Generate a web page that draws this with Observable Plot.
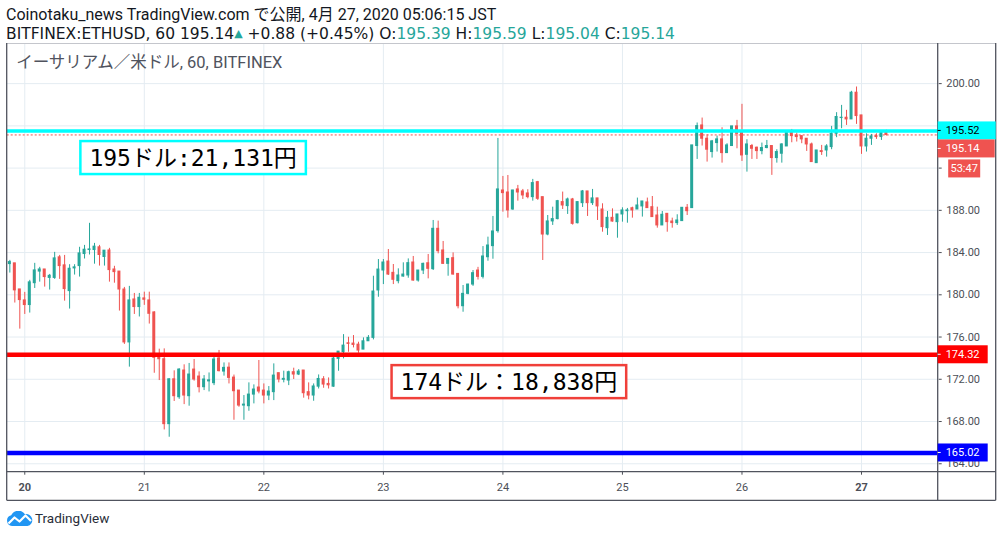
<!DOCTYPE html>
<html><head><meta charset="utf-8">
<script src="https://cdn.jsdelivr.net/npm/d3@7"></script>
<script src="https://cdn.jsdelivr.net/npm/@observablehq/plot@0.6"></script>
<style>
html,body{margin:0;padding:0;background:#fff;overflow:hidden;width:1002px;height:537px;}
#hdr{position:absolute;left:6px;top:5px;color:#131722;white-space:nowrap;}
#l1{font-family:Roboto,"Noto Sans CJK JP",sans-serif;font-size:16px;line-height:19px;}
#l2{font-family:"DejaVu Sans",sans-serif;font-size:15.5px;line-height:19px;}
#hdr .up{color:#26a69a;}
#hdr .tri{font-size:11px;vertical-align:2px;}
#chart{position:absolute;left:0;top:43px;}
#logo{position:absolute;left:6px;top:510px;height:16px;display:flex;align-items:center;font-family:Roboto,sans-serif;font-size:13.5px;color:#2a2e39;}
#logo svg{margin-right:2px;}
</style></head>
<body>
<div id="hdr"><div id="l1"></div><div id="l2"></div></div>
<div id="chart"></div>
<div id="logo"><svg width="27" height="15" viewBox="0 0 27 15"><path d="M6 15 A5.5 5.5 0 0 1 5.2 4.2 A8 8 0 0 1 19 3.2 A6 6 0 0 1 21.5 15 Z" fill="#2196f3"/><polyline points="2.5,12.5 8.5,6.5 13.5,10.5 19.5,4.5 25,10" fill="none" stroke="#fff" stroke-width="2.2" stroke-linejoin="round"/></svg><span>TradingView</span></div>
<script>
// ---- data (hourly candles, BITFINEX:ETHUSD, from 19 Apr 2020 21:00 JST) ----
const open = [
182.91,182.98,180.51,179.47,179.03,181.10,182.20,182.40,181.60,181.60,
183.55,182.79,180.35,182.50,182.72,183.86,184.24,184.24,184.50,183.58,
184.20,182.40,182.20,180.50,175.49,179.56,178.84,179.66,179.47,178.33,
174.03,173.90,167.75,172.00,170.30,172.83,170.40,172.92,172.26,171.25,
171.80,171.63,173.97,172.73,173.10,172.16,170.93,169.51,169.45,170.55,
171.22,170.93,170.46,170.78,172.58,171.95,171.88,172.67,172.45,172.83,
170.78,170.46,171.30,172.00,171.56,171.30,173.93,174.56,175.41,175.38,
175.28,174.81,175.60,175.92,180.41,182.30,183.15,182.08,181.29,181.73,
181.83,183.06,181.35,182.30,182.99,182.43,186.25,184.20,182.93,183.47,
181.98,178.92,180.09,180.97,182.30,181.70,183.56,184.61,186.03,189.88,
189.69,188.08,189.98,189.79,189.60,189.25,190.67,189.25,185.71,186.95,
187.17,188.78,188.40,189.03,186.78,188.68,189.79,188.68,189.13,188.08,
186.31,187.29,186.88,187.61,187.92,188.20,188.08,188.37,188.75,188.30,
187.51,186.57,187.67,186.94,186.79,186.98,188.24,188.21,194.09,196.04,
194.78,193.52,194.37,194.72,193.42,194.09,195.95,195.47,193.26,194.09,
193.93,193.61,193.90,194.09,192.95,193.36,194.05,195.35,195.09,195.03,
194.78,194.24,192.47,193.61,193.67,193.99,195.25,196.74,196.77,196.61,
199.14,196.99,194.05,194.78,195.03,194.94,195.39];
const high = [
183.26,182.98,180.51,180.23,181.37,182.98,182.60,182.40,181.93,184.02,
183.73,183.73,182.85,182.85,184.50,184.68,186.77,184.87,184.68,184.18,
184.40,182.70,182.20,180.70,180.80,180.13,180.13,180.25,180.25,178.40,
174.85,174.88,172.04,172.80,173.00,173.37,173.50,173.87,172.70,172.35,
172.60,174.25,174.73,173.55,173.55,172.40,170.93,170.46,171.66,171.47,
173.78,171.56,171.31,173.46,172.58,172.77,172.77,173.05,172.92,172.83,
171.66,171.56,172.41,172.25,172.13,174.40,174.62,176.23,175.98,176.14,
175.51,175.92,176.14,181.76,183.34,183.34,184.29,182.87,182.46,183.03,
183.40,183.63,182.30,183.00,183.82,187.04,186.98,185.05,183.40,183.97,
181.98,180.88,181.00,182.30,182.60,184.57,185.46,187.42,194.81,191.21,
191.30,189.90,190.36,189.98,189.95,190.93,190.74,189.25,187.51,188.30,
188.94,189.73,189.16,189.13,188.80,189.88,189.79,189.98,189.13,188.62,
187.89,188.14,187.61,188.24,188.18,188.30,189.16,188.84,189.16,189.31,
188.30,187.89,187.67,187.26,187.58,188.24,188.55,194.15,196.27,196.74,
195.16,194.62,195.03,195.82,194.31,195.95,196.52,198.04,194.69,194.24,
193.99,194.37,194.62,194.09,193.74,194.31,195.41,195.66,195.32,195.03,
194.78,194.37,193.67,194.15,194.22,195.95,197.25,197.94,197.47,199.27,
199.68,196.99,195.25,195.19,195.25,195.41,195.59];
const low = [
182.06,179.22,176.75,178.14,178.27,180.60,181.20,180.73,180.45,181.46,
181.46,179.40,178.65,181.87,181.68,183.39,183.77,182.90,182.72,182.72,
181.20,181.10,178.46,175.30,173.15,178.14,177.90,179.00,177.23,172.57,
171.88,167.20,166.51,169.90,170.10,169.60,169.45,171.82,170.71,170.93,
170.80,171.40,172.70,172.30,171.56,168.12,169.35,168.12,168.97,169.67,
170.62,169.67,169.98,169.98,171.66,171.66,171.40,171.98,172.35,170.21,
170.05,169.92,171.08,171.15,171.08,171.24,172.76,173.93,174.56,174.97,
174.46,174.81,175.60,175.73,179.77,180.97,181.83,180.97,181.04,181.67,
181.57,181.29,181.20,181.92,181.51,182.30,183.88,182.87,181.76,181.86,
178.67,178.35,180.00,180.80,181.40,181.50,183.18,183.37,185.84,187.83,
187.26,188.00,188.87,189.03,189.09,188.87,188.94,183.25,185.59,186.57,
187.10,188.08,187.61,186.60,186.72,188.27,187.42,188.46,187.04,185.93,
185.62,186.88,185.36,186.88,186.78,187.26,188.08,187.36,188.21,187.36,
186.31,186.57,185.93,186.31,186.57,186.98,187.51,188.21,192.82,194.09,
192.57,192.95,193.52,192.47,193.42,194.09,193.83,192.63,191.62,192.82,
192.82,193.26,193.83,191.31,192.47,192.47,194.05,194.40,194.47,194.31,
193.58,192.57,192.47,193.20,193.04,193.74,194.88,195.73,196.04,196.61,
196.14,193.30,193.52,194.15,194.72,194.62,195.04];
const close = [
183.10,180.42,179.50,179.03,181.18,182.31,182.40,181.68,181.80,183.45,
182.72,180.54,182.47,182.60,183.92,184.27,184.30,184.56,183.77,184.18,
182.34,182.15,180.50,175.49,179.47,178.84,179.72,179.53,178.20,174.03,
173.90,167.75,172.00,170.40,172.92,170.46,172.45,171.98,171.25,171.98,
171.90,173.87,172.77,173.08,172.13,170.87,169.51,169.60,170.55,171.03,
170.84,170.46,170.84,172.35,171.98,172.04,172.67,172.45,172.73,170.68,
170.46,171.32,172.03,171.50,171.43,173.96,174.62,175.19,175.35,175.25,
174.72,175.60,175.92,180.31,182.39,183.06,181.92,181.42,181.83,181.92,
183.00,181.35,182.30,182.93,182.46,186.25,184.13,182.93,183.40,181.92,
178.92,180.09,180.97,182.05,181.70,183.63,184.67,186.00,189.98,189.63,
187.99,189.88,189.69,189.41,189.25,190.58,189.09,185.71,186.95,187.17,
188.87,188.46,189.03,186.72,188.78,189.79,188.68,189.13,188.37,186.41,
187.29,186.94,187.61,187.99,187.99,187.99,188.46,188.84,188.21,187.36,
186.57,187.58,186.88,186.79,187.04,188.24,187.92,194.15,195.98,194.78,
193.74,194.53,194.72,193.42,194.15,195.95,195.25,193.20,194.24,193.83,
193.61,193.90,194.09,192.95,193.52,194.24,195.32,195.03,194.94,194.72,
194.24,192.57,193.67,193.52,194.05,195.25,196.84,196.77,196.61,199.14,
196.93,194.05,194.78,195.00,194.94,195.39,195.14];

const dayLabels = [20, 21, 22, 23, 24, 25, 26, 27];
const boldDays = [20, 27];
const priceTicks = [164, 168, 172, 176, 180, 184, 188, 192, 196, 200];
const hiddenPriceLabels = [192, 196];   // covered by the price tags in the reference

// horizontal level lines drawn on the chart
const levelPrices = [195.52, 174.32, 165.02];
const levelColors = ["#00ffff", "#ff0000", "#0000ff"];
const lastPrice = 195.14;
const countdown = "53:47";

// text notes drawn on the chart
const noteTexts = ["195ドル:21,131円", "174ドル：18,838円"];
const noteHours = [36.9, 100.3];      // hours after first candle
const notePrices = [192.95, 171.73];
const noteColors = ["#00ffff", "#f0403a"];

const titleText = "イーサリアム／米ドル, 60, BITFINEX";
const header1 = "Coinotaku_news TradingView.com で公開, 4月 27, 2020 05:06:15 JST";
const symbol = "BITFINEX:ETHUSD, 60";
const change = "+0.88 (+0.45%)";

// ---- build ----
const UP = "#26a69a", DOWN = "#ef5350";
const HOUR = 3600e3, T0 = Date.UTC(2020, 3, 19, 21);
const candles = open.map((o, i) => ({
  t: new Date(T0 + i * HOUR), o, h: high[i], l: low[i], c: close[i],
  col: close[i] >= o ? UP : DOWN
}));
const dayDate = d => new Date(Date.UTC(2020, 3, d));
const normalTicks = dayLabels.filter(d => !boldDays.includes(d)).map(dayDate);
const boldTicks = boldDays.map(dayDate);
const allDayTicks = dayLabels.map(dayDate);

const n = candles.length - 1;
const lastC = candles[n];
document.getElementById("l1").textContent = header1;
document.getElementById("l2").innerHTML =
  `${symbol} ${lastPrice.toFixed(2)}<span class="up tri">▲</span> ${change} ` +
  `O:<span class="up">${lastC.o.toFixed(2)}</span> H:<span class="up">${lastC.h.toFixed(2)}</span> ` +
  `L:<span class="up">${lastC.l.toFixed(2)}</span> C:<span class="up">${lastC.c.toFixed(2)}</span>`;

const FONT = "Roboto, 'Noto Sans CJK JP', sans-serif";
const AXIS = "#4c4f57";

function overlay(index, scales, values, dims) {
  const {width, height, marginLeft, marginRight, marginBottom} = dims;
  const xL = marginLeft, xR = width - marginRight, yB = height - marginBottom;
  const xO = width - 6.3, yO = height - 0.7;
  const g = d3.create("svg:g").attr("font-family", FONT).attr("text-anchor", "start");
  // frame
  g.append("line").attr("x1", xL).attr("x2", xO).attr("y1", 0.5).attr("y2", 0.5).attr("stroke", "#c4c6cc");
  const dark = [[xL, 0, xL, yO], [xL, yB, xO, yB], [xR, 0, xR, yO], [xL, yO, xO, yO], [xO, 0, xO, yO]];
  for (const [a, b, c, d] of dark)
    g.append("line").attr("x1", a).attr("y1", b).attr("x2", c).attr("y2", d).attr("stroke", "#50535e").attr("stroke-width", 1.3);
  // title
  g.append("text").attr("x", xL + 9.5).attr("y", 19).attr("dy", "0.35em").attr("text-anchor", "start")
    .attr("font-size", 16.5).attr("fill", "#50535e").text(titleText);
  // notes
  noteTexts.forEach((txt, i) => {
    const cx = scales.x(new Date(T0 + noteHours[i] * HOUR)), cy = scales.y(notePrices[i]);
    const ng = g.append("g").attr("class", "note");
    ng.append("rect").attr("fill", "#fff").attr("stroke", noteColors[i]).attr("stroke-width", 2.5)
      .attr("data-cy", cy);
    ng.append("text").attr("x", cx).attr("y", cy).attr("dy", "0.36em").attr("text-anchor", "middle")
      .attr("font-family", "'DejaVu Sans Mono', 'Noto Sans CJK JP', monospace").attr("font-size", 23)
      .attr("fill", "#000").text(txt);
  });
  // price tags on the right axis
  const tags = [
    {p: levelPrices[0], fill: levelColors[0], color: "#000", w: 58},
    {p: lastPrice, fill: DOWN, color: "#fff", w: 57},
    {p: levelPrices[1], fill: levelColors[1], color: "#fff", w: 50},
    {p: levelPrices[2], fill: levelColors[2], color: "#fff", w: 50}
  ];
  let prevBottom = -Infinity;
  tags.forEach((tg, i) => {
    let top = scales.y(tg.p) - 9;
    if (top < prevBottom) top = prevBottom;
    prevBottom = top + 18;
    g.append("rect").attr("x", xR).attr("y", top).attr("width", tg.w).attr("height", 18).attr("fill", tg.fill);
    g.append("line").attr("x1", xR).attr("x2", xR + 3).attr("y1", top + 9).attr("y2", top + 9).attr("stroke", tg.color);
    g.append("text").attr("x", xR + 8).attr("y", top + 9).attr("dy", "0.35em").attr("font-size", 11)
      .attr("text-anchor", "start").attr("fill", tg.color).text(tg.p.toFixed(2));
    if (i === 1) {
      const t2 = top + 20;
      g.append("rect").attr("x", xR + 10.5).attr("y", t2).attr("width", 32).attr("height", 18).attr("fill", DOWN);
      g.append("text").attr("x", xR + 26.5).attr("y", t2 + 9).attr("dy", "0.35em").attr("text-anchor", "middle")
        .attr("font-size", 11).attr("fill", "#fff").text(countdown);
      prevBottom = t2 + 18;
    }
  });
  return g.node();
}

const chart = Plot.plot({
  width: 1002, height: 458,
  marginLeft: 6.7, marginRight: 64.3, marginTop: 0, marginBottom: 29.3,
  style: {fontFamily: FONT, fontSize: "11px", background: "#fff", overflow: "visible"},
  x: {type: "utc", domain: [new Date(T0 - 0.53 * HOUR), new Date(T0 + 186.4 * HOUR)], axis: null, label: null},
  y: {domain: [163.2, 203.8], axis: null, label: null},
  color: {type: "identity"},
  marks: [
    Plot.ruleY(priceTicks, {stroke: "#e4ecf2"}),
    Plot.ruleX(allDayTicks, {stroke: "#e4ecf2"}),
    Plot.axisY({ticks: priceTicks, anchor: "right", tickSize: 3, tickPadding: 5,
      tickFormat: d => hiddenPriceLabels.includes(d) ? "" : d.toFixed(2),
      color: AXIS, fontSize: 11, textAnchor: "start", label: null}),
    Plot.axisX({ticks: normalTicks, tickFormat: d => String(d.getUTCDate()), tickSize: 3, tickPadding: 8,
      color: AXIS, fontSize: 11, label: null}),
    Plot.axisX({ticks: boldTicks, tickFormat: d => String(d.getUTCDate()), tickSize: 3, tickPadding: 8,
      color: AXIS, fontSize: 11, fontWeight: "bold", label: null}),
    Plot.ruleY([lastPrice], {stroke: DOWN, strokeWidth: 1, strokeDasharray: "2,2"}),
    Plot.ruleX(candles, {x: "t", y1: "l", y2: "h", stroke: "col", strokeWidth: 1}),
    Plot.rect(candles, {
      x1: d => new Date(+d.t - 0.3 * HOUR), x2: d => new Date(+d.t + 0.3 * HOUR),
      y1: "o", y2: "c", fill: "col", insetTop: -0.5, insetBottom: -0.5
    }),
    Plot.ruleY(levelPrices, {stroke: (d, i) => levelColors[i], strokeWidth: d => d === levelPrices[0] ? 3.5 : 4.5}),
    overlay
  ]
});
document.getElementById("chart").append(chart);

// size the note boxes to their text
d3.select(chart).selectAll("g.note").each(function () {
  const t = this.querySelector("text"), r = this.querySelector("rect");
  const b = t.getBBox();
  const cy = +r.getAttribute("data-cy");
  r.setAttribute("x", b.x - 9);
  r.setAttribute("width", b.width + 18);
  r.setAttribute("y", cy - 16.5);
  r.setAttribute("height", 33);
});
</script>
</body></html>
